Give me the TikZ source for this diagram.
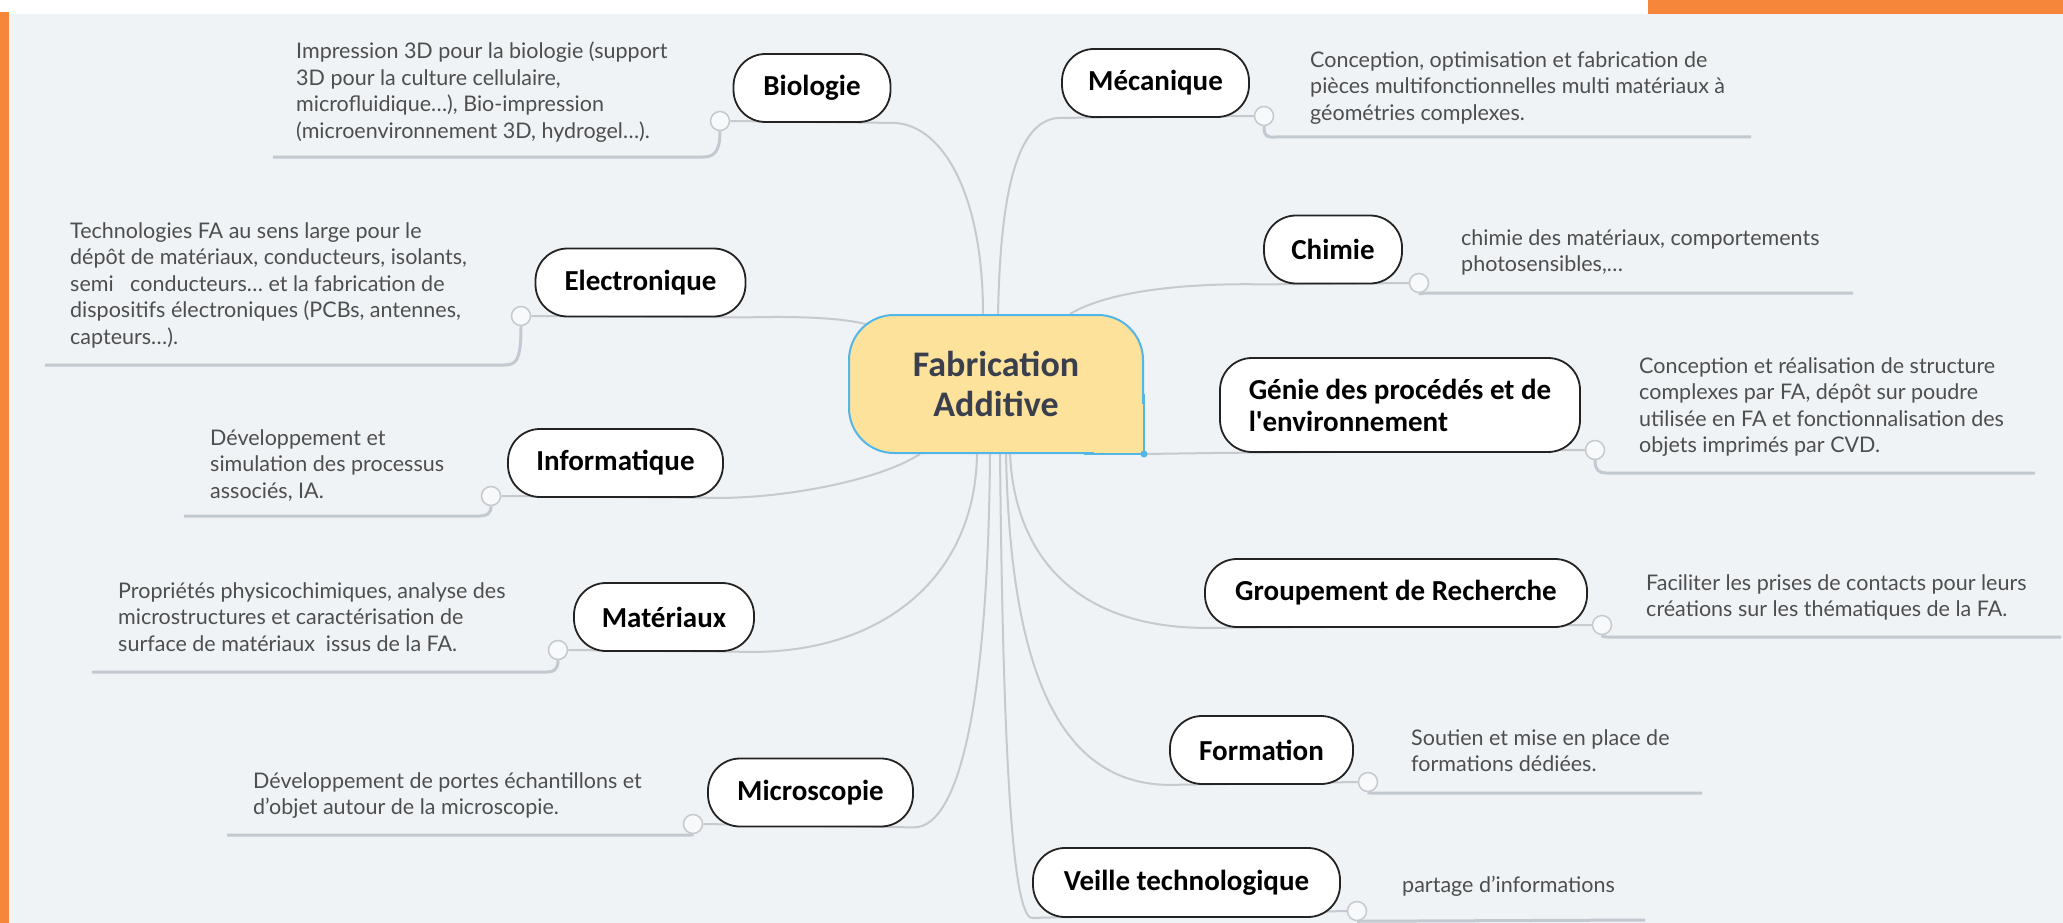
\documentclass[tikz,border=0pt]{standalone}
\usepackage{fontspec}
\setmainfont{Lato}
\newfontfamily\nodefont{Carlito}[Ligatures=TeXOff]
\newfontfamily\descfont{Lato}
\usetikzlibrary{calc}
\definecolor{bgc}{RGB}{239,243,245}
\definecolor{orng}{RGB}{245,134,58}
\definecolor{cyellow}{RGB}{253,226,155}
\definecolor{cblue}{RGB}{84,182,230}
\definecolor{ctitle}{RGB}{58,63,78}
\definecolor{nborder}{RGB}{35,35,35}
\definecolor{edgec}{RGB}{198,202,207}
\definecolor{ulinec}{RGB}{194,201,209}
\definecolor{dotfill}{RGB}{247,249,250}
\definecolor{desctext}{RGB}{78,78,78}
\pgfdeclarelayer{bg}
\pgfdeclarelayer{edges}
\pgfsetlayers{bg,edges,main}
\tikzset{
  centernode/.style={draw=cblue, line width=2pt, fill=cyellow, rounded corners=45pt,
    minimum width=294pt, minimum height=138pt, inner sep=0pt, align=center,
    font=\nodefont\bfseries\fontsize{36}{40}\selectfont, text=ctitle},
  branchnode/.style={draw=nborder, line width=1.8pt, fill=white, rounded corners=32pt,
    minimum height=68pt, inner sep=0pt,
    font=\nodefont\bfseries\fontsize{29}{32}\selectfont, text=black},
  dotnode/.style={circle, minimum size=19pt, inner sep=0pt, fill=dotfill, draw=edgec, line width=1.5pt},
  edge/.style={draw=edgec, line width=2pt},
  uline/.style={draw=ulinec, line width=3pt},
  desc/.style={anchor=north west, inner sep=0pt, align=left,
    font=\descfont\fontsize{21.5}{26.5}\selectfont, text=desctext}
}
\begin{document}
\begin{tikzpicture}[x=1pt,y=-1pt]
\useasboundingbox (0,0) rectangle (2063,923);
\begin{pgfonlayer}{bg}
\fill[white] (0,0) rectangle (2063,923);
\fill[bgc] (9,14) rectangle (2063,923);
\fill[orng] (0,12) rectangle (9,923);
\fill[orng] (1648,0) rectangle (2063,14);
\end{pgfonlayer}

% central node
\node[centernode] (c) at (996,384) {Fabrication\\Additive};
\fill[cyellow] ($(c.south east)+(-50,-50)$) rectangle ($(c.south east)+(-1,-1)$);
\draw[cblue, line width=2pt] ($(c.south east)+(0,-60)$) -- (c.south east) -- ($(c.south east)+(-60,0)$);
\fill[cblue] (c.south east) circle (3.5);

% branch nodes left
\node[branchnode, minimum width=157pt] (bio) at (812,88) {Biologie};
\node[branchnode, minimum width=210pt] (ele) at (640.5,282.5) {Electronique};
\node[branchnode, minimum width=215pt] (inf) at (615.5,463) {Informatique};
\node[branchnode, minimum width=180pt] (mat) at (664,617) {Matériaux};
\node[branchnode, minimum width=205pt] (mic) at (810.5,792.5) {Microscopie};
% branch nodes right
\node[branchnode, minimum width=187pt] (mec) at (1155.5,83) {Mécanique};
\node[branchnode, minimum width=138pt] (chi) at (1333,249.5) {Chimie};
\node[branchnode, minimum width=360pt, minimum height=94pt, align=left] (gen) at (1400,405) {Génie des procédés et de\\l'environnement};
\node[branchnode, minimum width=382pt] (grp) at (1396,593) {Groupement de Recherche};
\node[branchnode, minimum width=183pt] (frm) at (1261.5,750) {Formation};
\node[branchnode, minimum width=307pt, minimum height=69pt] (vei) at (1186.5,882.5) {Veille technologique};

% junction dots
\node[dotnode] (bioc) at (720,121) {};
\node[dotnode] (elec) at (521,316) {};
\node[dotnode] (infc) at (491,496) {};
\node[dotnode] (matc) at (558,650) {};
\node[dotnode] (micc) at (693,824) {};
\node[dotnode] (mecc) at (1264,116) {};
\node[dotnode] (chic) at (1419,283) {};
\node[dotnode] (genc) at (1595,450) {};
\node[dotnode] (grpc) at (1602,625) {};
\node[dotnode] (frmc) at (1368,782) {};
\node[dotnode] (veic) at (1357,911) {};

% underline ends
\coordinate (bioe) at (273,157);
\coordinate (elee) at (45,365);
\coordinate (infe) at (184,516);
\coordinate (mate) at (92,672);
\coordinate (mice) at (227,835);
\coordinate (mece) at (1751,137);
\coordinate (chie) at (1853,293);
\coordinate (gene) at (2035,473);
\coordinate (grpe) at (2061,637);
\coordinate (frme) at (1702,793);
\coordinate (veie) at (1645,920);

% descriptions
\node[desc] (biot) at (296,42) {Impression 3D pour la biologie (support\\3D pour la culture cellulaire,\\microfluidique…), Bio-impression\\(microenvironnement 3D, hydrogel…).};
\node[desc] (elet) at (70,222) {Technologies FA au sens large pour le\\dépôt de matériaux, conducteurs, isolants,\\semi~~~conducteurs… et la fabrication de\\dispositifs électroniques (PCBs, antennes,\\capteurs…).};
\node[desc] (inft) at (210,429) {Développement et\\simulation des processus\\associés, IA.};
\node[desc] (matt) at (118,582) {Propriétés physicochimiques, analyse des\\microstructures et caractérisation de\\surface de matériaux~ issus de la FA.};
\node[desc] (mict) at (253,772) {Développement de portes échantillons et\\d’objet autour de la microscopie.};
\node[desc] (mect) at (1310,51) {Conception, optimisation et fabrication de\\pièces multifonctionnelles multi matériaux à\\géométries complexes.};
\node[desc] (chit) at (1461,229) {chimie des matériaux, comportements\\photosensibles,…};
\node[desc] (gent) at (1639,357) {Conception et réalisation de structure\\complexes par FA, dépôt sur poudre\\utilisée en FA et fonctionnalisation des\\objets imprimés par CVD.};
\node[desc] (grpt) at (1646,574) {Faciliter les prises de contacts pour leurs\\créations sur les thématiques de la FA.};
\node[desc] (frmt) at (1411,729) {Soutien et mise en place de\\formations dédiées.};
\node[desc] (veit) at (1402,876) {partage d’informations};

\begin{pgfonlayer}{edges}
% underlines left
\draw[uline] (bioc.south) .. controls +(0,22) and +(10,0) .. (703,157) -- (bioe);
\draw[uline] (elec.south) .. controls +(0,35) and +(12,0) .. (504,365) -- (elee);
\draw[uline] (infc.south) .. controls +(0,8) and +(6,0) .. (480,516) -- (infe);
\draw[uline] (matc.south) .. controls +(0,10) and +(6,0) .. (547,672) -- (mate);
\draw[uline] (micc.south) .. controls +(0,1) and +(4,0) .. (686,835) -- (mice);
% underlines right
\draw[uline] (mecc.south) .. controls +(0,12) and +(-8,0) .. (1276,137) -- (mece);
\draw[uline] (chic.south) .. controls +(0,1) and +(-4,0) .. (1427,293) -- (chie);
\draw[uline] (genc.south) .. controls +(0,10) and +(-7,0) .. (1606,473) -- (gene);
\draw[uline] (grpc.south) .. controls +(0,2) and +(-4,0) .. (1610,637) -- (grpe);
\draw[uline] (frmc.south) .. controls +(0,1) and +(-4,0) .. (1376,793) -- (frme);
\draw[uline] (veic.south) -- (veie);
% main connectors left
\draw[edge] (bioc.east) -- (bio.south east) .. controls (940,122) and (983,190) .. ([xshift=-13pt]c.north);
\draw[edge] (elec.east) -- (ele.south east) .. controls (800,316) and (845,318) .. ($(c.north west)+(21,11)$);
\draw[edge] (infc.east) -- (inf.south east) .. controls (790,497) and (880,480) .. ([xshift=-76pt]c.south);
\draw[edge] (matc.east) -- (mat.south east) .. controls (880,651) and (975,580) .. ([xshift=-19pt]c.south);
\draw[edge] (micc.east) -- (mic.south east) .. controls (960,827) and (988,700) .. ([xshift=-6pt]c.south);
% main connectors right
\draw[edge] ([xshift=2pt]c.north) .. controls (1000,220) and (1010,117) .. (mec.south west) -- (mecc.west);
\draw[edge] ([xshift=74pt]c.north) .. controls (1110,290) and (1190,283) .. (chi.south west) -- (chic.west);
\draw[edge] (c.south east) -- (gen.south west) -- (genc.west);
\draw[edge] ([xshift=14pt]c.south) .. controls (1015,560) and (1080,627) .. (grp.south west) -- (grpc.west);
\draw[edge] ([xshift=10pt]c.south) .. controls (1010,650) and (1050,784) .. (frm.south west) -- (frmc.west);
\draw[edge] ([xshift=4pt]c.south) .. controls (1003,750) and (1012,917) .. (vei.south west) -- (veic.west);
\end{pgfonlayer}
\end{tikzpicture}
\end{document}
